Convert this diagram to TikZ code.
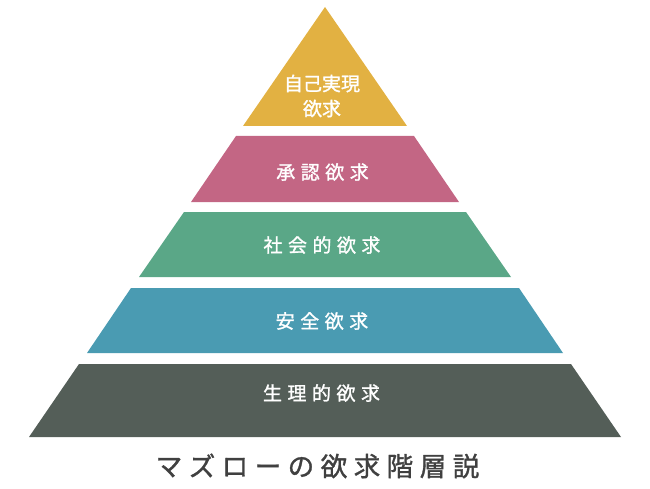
\documentclass[tikz,border=0pt]{standalone}
\usepackage{fontspec}
\setmainfont{Noto Sans CJK JP}
\newfontfamily\jpmed[FakeBold=1.3]{Noto Sans CJK JP}
\definecolor{cgold}{RGB}{226,177,66}
\definecolor{cpink}{RGB}{195,102,132}
\definecolor{cgreen}{RGB}{90,167,135}
\definecolor{cblue}{RGB}{74,155,178}
\definecolor{cdark}{RGB}{84,94,88}
\definecolor{ctitle}{RGB}{64,64,64}
\newcommand\lsp{\hspace{5.5pt}}
\newcommand\tsp{\hspace{6.5pt}}
\begin{document}
\begin{tikzpicture}[x=1pt,y=-1pt,
  lvl/.style={text=white,font=\fontsize{19}{25}\jpmed,inner sep=0pt,align=center}]
\useasboundingbox (0,0) rectangle (650,489);
\fill[cgold] (325,7) -- (407,126) -- (243,126) -- cycle;
\fill[cpink] (236,136) -- (414,136) -- (459,202) -- (191,202) -- cycle;
\fill[cgreen] (184,212) -- (466,212) -- (511,277) -- (139,277) -- cycle;
\fill[cblue] (131,288) -- (519,288) -- (563,353) -- (87,353) -- cycle;
\fill[cdark] (79,364) -- (571,364) -- (621,437) -- (29,437) -- cycle;
\node[lvl] (l5) at (322,96) {自己実現\\欲求};
\node[lvl] (l4) at (322.5,172) {承\lsp 認\lsp 欲\lsp 求};
\node[lvl] (l3) at (322,245) {社\lsp 会\lsp 的\lsp 欲\lsp 求};
\node[lvl] (l2) at (322,321) {安\lsp 全\lsp 欲\lsp 求};
\node[lvl] (l1) at (321.5,393) {生\lsp 理\lsp 的\lsp 欲\lsp 求};
\node[text=ctitle,font=\fontsize{26.5}{30}\jpmed,inner sep=0pt] (title) at (317.5,466)
  {マ\tsp ズ\tsp ロ\tsp ー\tsp の\tsp 欲\tsp 求\tsp 階\tsp 層\tsp 説};
\end{tikzpicture}
\end{document}
